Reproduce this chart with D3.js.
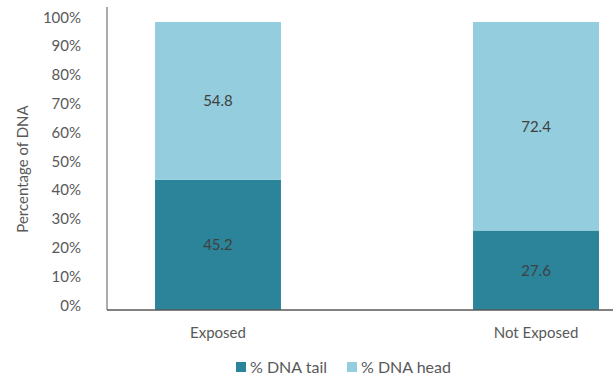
<!DOCTYPE html>
<html>
<head>
<meta charset="utf-8">
<script src="https://cdn.jsdelivr.net/npm/d3@7"></script>
<style>
  html, body { margin: 0; padding: 0; background: #fff; }
  svg { display: block; font-family: Lato, "Open Sans", sans-serif; }
</style>
</head>
<body>
<svg id="chart" width="613" height="377"></svg>
<script>
const categories = ["Exposed", "Not Exposed"];
const seriesNames = ["% DNA tail", "% DNA head"];
const tailValues = [45.2, 27.6];
const headValues = [54.8, 72.4];
const yTicks = [0, 10, 20, 30, 40, 50, 60, 70, 80, 90, 100];
const colors = ["#2b8499", "#93cdde"];

const svg = d3.select("#chart");
const x0 = 107, yBase = 310, yTop = 22;

const x = d3.scaleBand().domain(categories).range([x0, 647])
  .paddingInner(0.604).paddingOuter(0.151);
const y = d3.scaleLinear().domain([0, 100]).range([yBase, yTop]);

const rows = categories.map((c, i) => ({ cat: c, tail: tailValues[i], head: headValues[i] }));
const stack = d3.stack().keys(["tail", "head"])(rows);

// bars
svg.append("g").selectAll("g").data(stack).join("g")
  .attr("fill", (d, i) => colors[i])
  .selectAll("rect").data(d => d).join("rect")
  .attr("x", d => x(d.data.cat))
  .attr("width", x.bandwidth())
  .attr("y", d => y(d[1]))
  .attr("height", d => y(d[0]) - y(d[1]));

// data labels
svg.append("g").selectAll("g").data(stack).join("g")
  .selectAll("text").data(d => d.map(p => ({ p, key: d.key }))).join("text")
  .attr("x", d => x(d.p.data.cat) + x.bandwidth() / 2)
  .attr("y", d => (y(d.p[0]) + y(d.p[1])) / 2)
  .attr("dy", "0.35em")
  .attr("text-anchor", "middle")
  .attr("font-size", 15)
  .attr("fill", "#404040")
  .text(d => d.p.data[d.key].toFixed(1));

// y axis
const yAxis = d3.axisLeft(y).tickValues(yTicks).tickSize(0).tickPadding(26)
  .tickFormat(d => d + "%");
const gy = svg.append("g").attr("transform", `translate(${x0},0)`).call(yAxis);
gy.select(".domain").remove();
gy.selectAll("text").attr("font-size", 15).attr("fill", "#595959")
  .attr("font-family", "Lato, sans-serif").attr("dy", "-0.0em");
svg.append("line").attr("x1", x0).attr("x2", x0).attr("y1", 7).attr("y2", yBase)
  .attr("stroke", "#7f7f7f").attr("stroke-width", 1.3);

// x axis
const xAxis = d3.axisBottom(x).tickSize(0).tickPadding(17);
const gx = svg.append("g").attr("transform", `translate(0,${yBase})`).call(xAxis);
gx.select(".domain").remove();
gx.selectAll("text").attr("font-size", 15).attr("fill", "#595959")
  .attr("font-family", "Lato, sans-serif");
svg.append("line").attr("x1", x0).attr("x2", 613).attr("y1", yBase).attr("y2", yBase)
  .attr("stroke", "#595959").attr("stroke-width", 1.5);

// y title
svg.append("text")
  .attr("transform", `translate(23,169) rotate(-90)`)
  .attr("text-anchor", "middle").attr("dy", "0.35em")
  .attr("font-size", 15).attr("fill", "#595959")
  .text("Percentage of DNA");

// legend
const legX = [236, 347];
const leg = svg.append("g").selectAll("g").data(seriesNames).join("g")
  .attr("transform", (d, i) => `translate(${legX[i]},362)`);
leg.append("rect").attr("width", 10).attr("height", 10).attr("fill", (d, i) => colors[i]);
leg.append("text").attr("x", 14).attr("y", 5).attr("dy", "0.35em")
  .attr("font-size", 16).attr("fill", "#595959").text(d => d);
</script>
</body>
</html>
